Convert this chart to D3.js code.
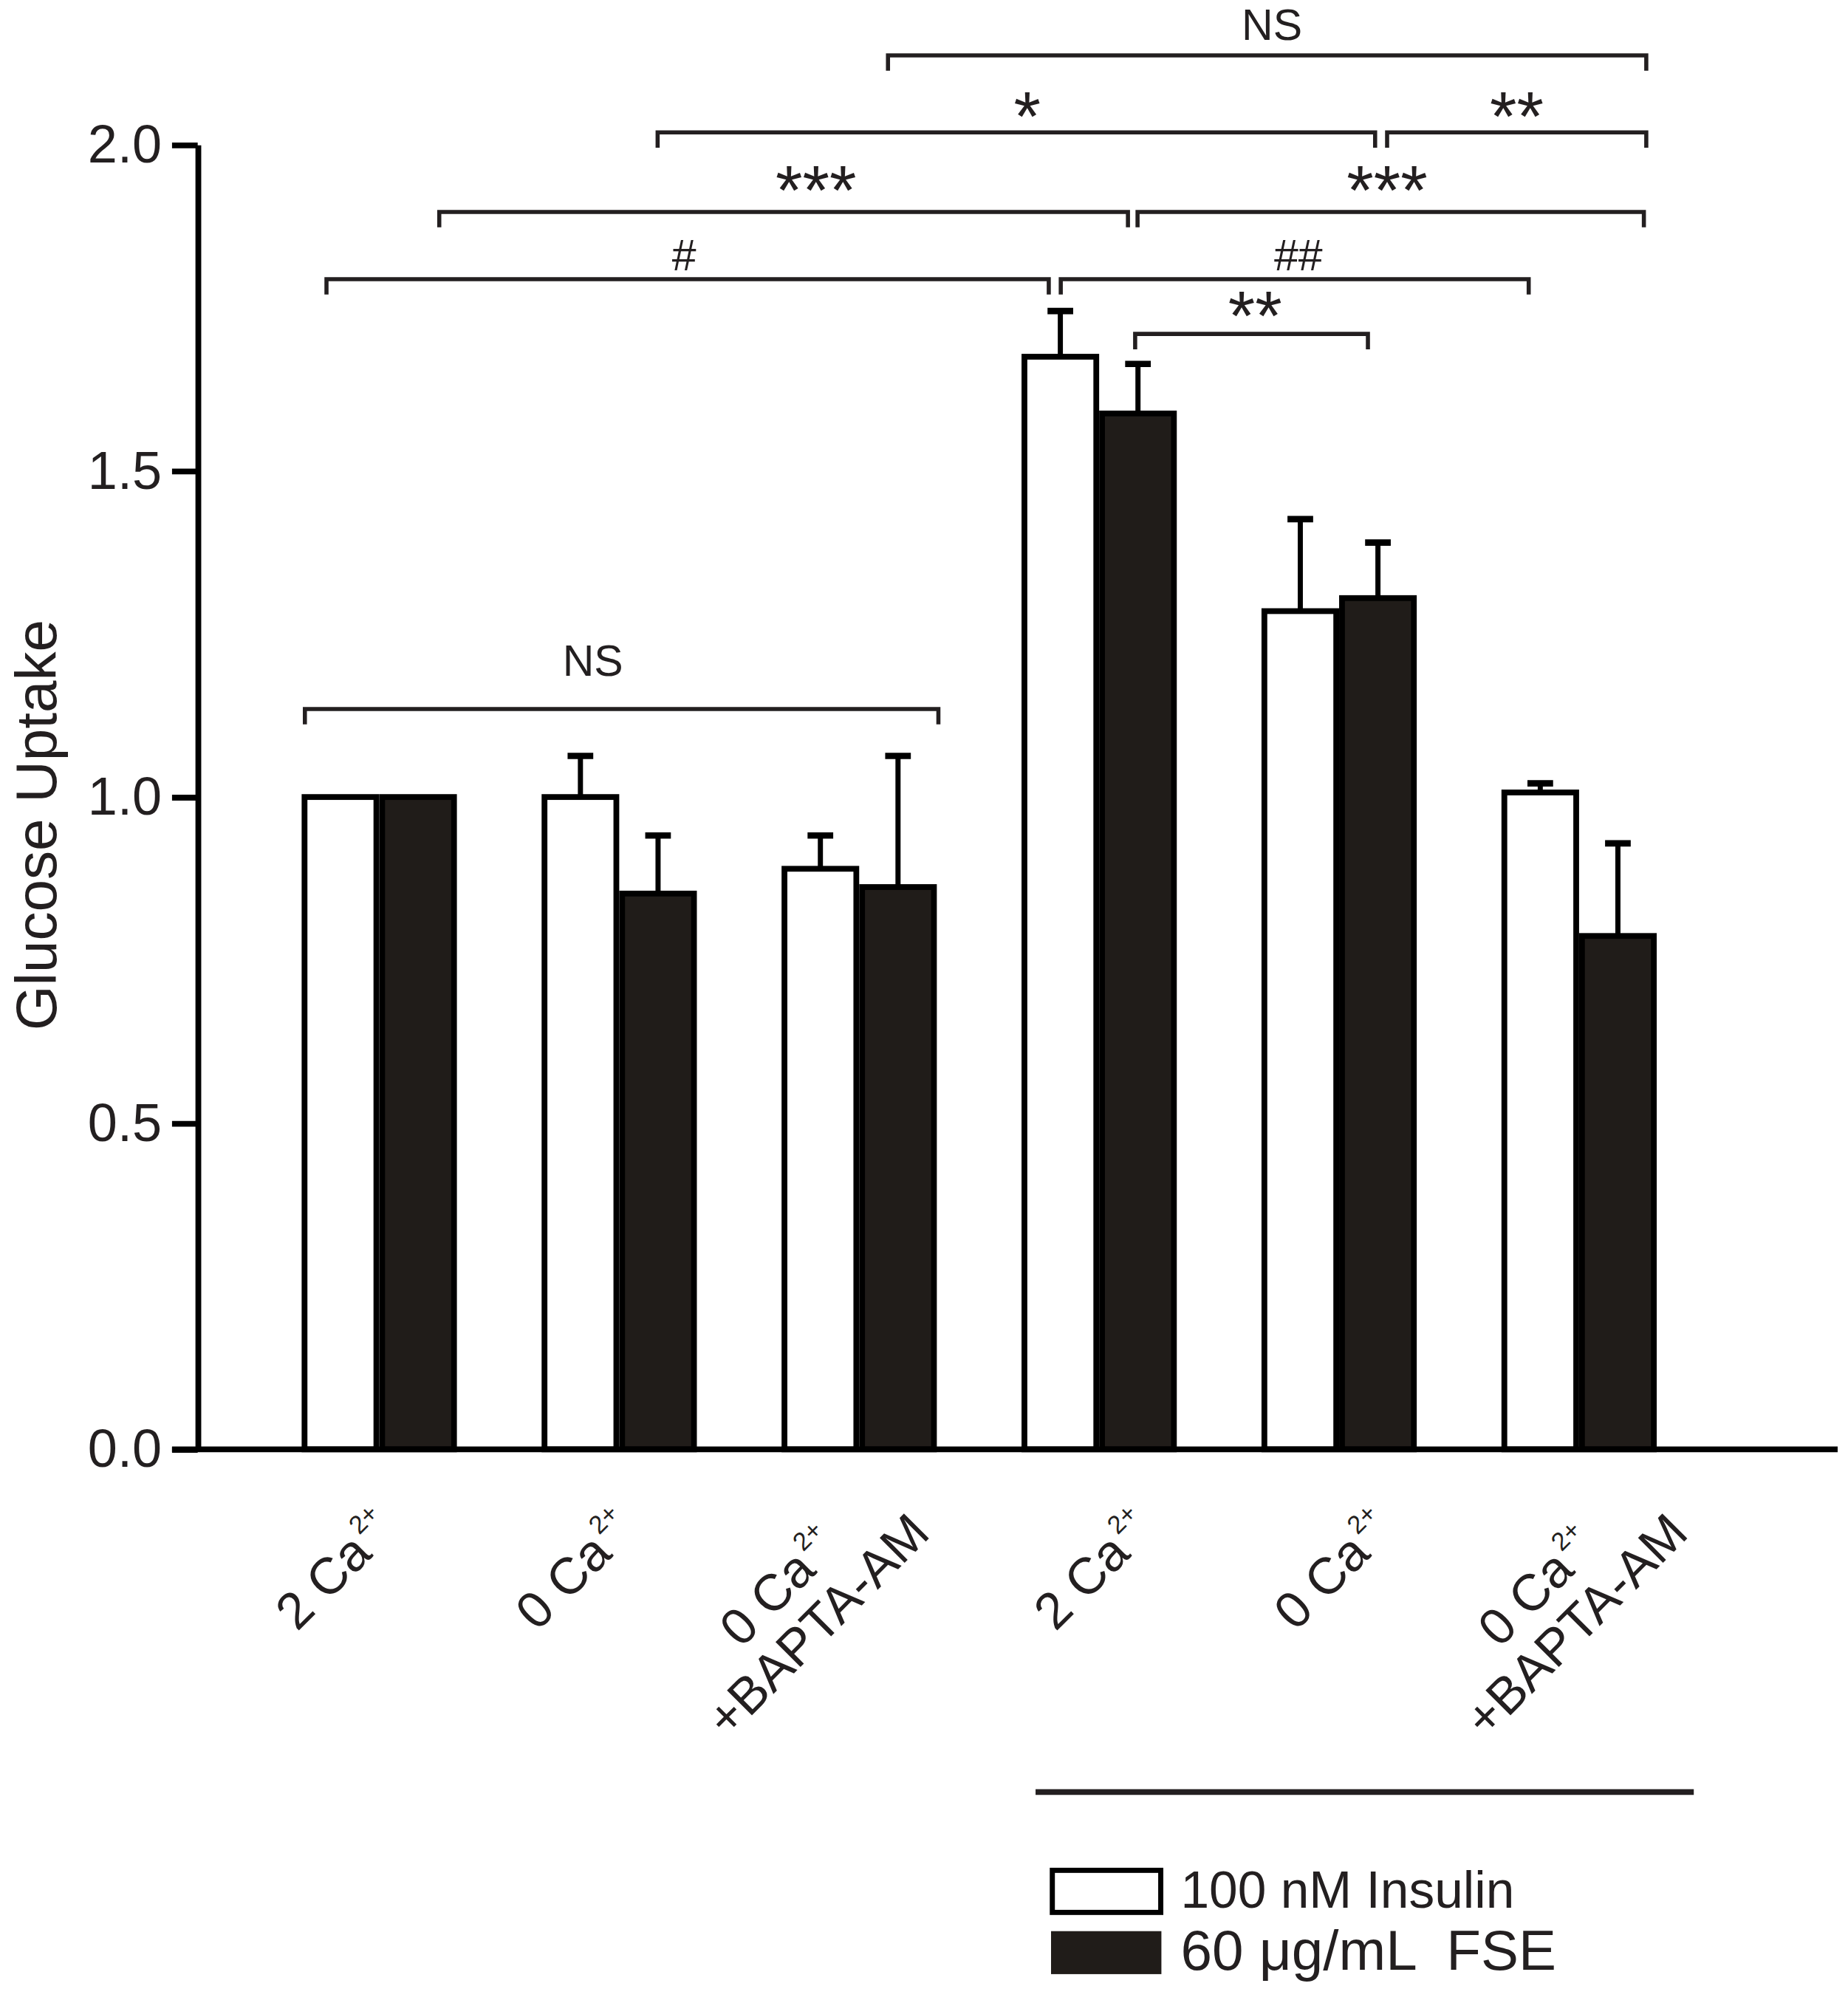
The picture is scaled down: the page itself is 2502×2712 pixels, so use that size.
<!DOCTYPE html>
<html>
<head>
<meta charset="utf-8">
<title>Glucose Uptake</title>
<script src="https://cdn.jsdelivr.net/npm/d3@7"></script>
<style>
  html, body { margin: 0; padding: 0; background: #fff; }
  svg { display: block; font-family: "Liberation Sans", Arial, sans-serif; }
</style>
</head>
<body>
<div id="chart"></div>
<script>
// groups on the x axis: main text, superscript, optional second line
var groups     = ["2 Ca", "0 Ca", "0 Ca", "2 Ca", "0 Ca", "0 Ca"];
var groupSup   = ["2+", "2+", "2+", "2+", "2+", "2+"];
var groupLine2 = ["", "", "+BAPTA-AM", "", "", "+BAPTA-AM"];

var seriesNames = ["100 nM Insulin", "60 μg/mL  FSE"];
var insulinMean = [1.00, 1.00, 0.89, 1.675, 1.285, 1.007];
var insulinSem  = [0, 0.063, 0.051, 0.070, 0.141, 0.014];
var fseMean     = [1.00, 0.852, 0.862, 1.588, 1.305, 0.787];
var fseSem      = [0, 0.089, 0.201, 0.076, 0.085, 0.142];

var yTicks = [0, 0.5, 1.0, 1.5, 2.0];
var yTitle = "Glucose Uptake";

// significance brackets; ends in group units (0 = centre of first group), heights in y units
var bracketFrom      = [2.12, 1.16, 4.20, 0.25, 3.16, -0.22, 2.84, 3.15, -0.31];
var bracketTo        = [5.28, 4.15, 5.28, 3.12, 5.27, 2.79, 4.79, 4.12, 2.33];
var bracketLevel     = [2.137, 2.019, 2.019, 1.897, 1.897, 1.794, 1.794, 1.710, 1.135];
var bracketText      = ["NS", "*", "**", "***", "***", "#", "##", "**", "NS"];
var bracketTextAt    = [3.72, 2.70, 4.74, 1.82, 4.20, 1.27, 3.83, 3.65, 0.89];
var bracketTextLevel = [2.161, 2.007, 2.007, 1.893, 1.893, 1.808, 1.808, 1.701, 1.186];

window.onload = function(){
	var W = 1440, H = 1561;
	var ink = "#231f20";
	var svg = d3.select("#chart").append("svg")
		.attr("width", 2502).attr("height", 2712)
		.attr("viewBox", "0 0 " + W + " " + H);

	var x = d3.scaleBand()
		.domain(d3.range(groups.length))
		.range([202, 1324])
		.paddingInner(0.353)
		.paddingOuter(0.1765);
	var xs = d3.scaleBand().domain([0, 1]).range([0, x.bandwidth()]);
	// continuous position in group units, used for brackets and labels
	var gx = d3.scaleLinear()
		.domain([0, groups.length - 1])
		.range([x(0) + x.bandwidth() / 2, x(groups.length - 1) + x.bandwidth() / 2]);

	var y = d3.scaleLinear().domain([0, 2]).range([1129.5, 112.8]);

	// bars
	var series = [
		{mean: insulinMean, sem: insulinSem, fill: "#ffffff"},
		{mean: fseMean, sem: fseSem, fill: "#201c19"}
	];
	var sw = 4.5;
	series.forEach(function(s, si){
		var g = svg.append("g");
		g.selectAll("rect").data(s.mean).join("rect")
			.attr("x", function(d, i){ return x(i) + xs(si) + sw / 2; })
			.attr("y", function(d){ return y(d); })
			.attr("width", xs.bandwidth() - sw)
			.attr("height", function(d){ return y(0) - y(d); })
			.attr("fill", s.fill)
			.attr("stroke", "#000")
			.attr("stroke-width", sw);

		// error bars (upper only)
		var eb = g.selectAll("g.err").data(d3.range(s.mean.length).filter(function(i){ return s.sem[i] > 0; }))
			.join("g").attr("class", "err");
		eb.append("line")
			.attr("x1", function(i){ return x(i) + xs(si) + xs.bandwidth() / 2; })
			.attr("x2", function(i){ return x(i) + xs(si) + xs.bandwidth() / 2; })
			.attr("y1", function(i){ return y(s.mean[i]); })
			.attr("y2", function(i){ return y(s.mean[i] + s.sem[i]); })
			.attr("stroke", "#000").attr("stroke-width", 4);
		eb.append("line")
			.attr("x1", function(i){ return x(i) + xs(si) + xs.bandwidth() / 2 - 10; })
			.attr("x2", function(i){ return x(i) + xs(si) + xs.bandwidth() / 2 + 10; })
			.attr("y1", function(i){ return y(s.mean[i] + s.sem[i]); })
			.attr("y2", function(i){ return y(s.mean[i] + s.sem[i]); })
			.attr("stroke", "#000").attr("stroke-width", 5);
	});

	// axes
	var yAxis = d3.axisLeft(y)
		.tickValues(yTicks)
		.tickFormat(d3.format(".1f"))
		.tickSize(20)
		.tickSizeOuter(0)
		.tickPadding(8);
	var ya = svg.append("g").attr("transform", "translate(154,0)").call(yAxis);
	ya.select(".domain").attr("stroke", "#000").attr("stroke-width", 4.5);
	ya.selectAll(".tick line").attr("stroke", "#000").attr("stroke-width", 4.5);
	ya.selectAll(".tick text")
		.attr("fill", ink)
		.attr("font-size", 41.5)
		.attr("font-family", "Liberation Sans, Arial, sans-serif");

	svg.append("line")
		.attr("x1", 134).attr("x2", 1432)
		.attr("y1", y(0)).attr("y2", y(0))
		.attr("stroke", "#000").attr("stroke-width", 4.5);

	svg.append("text")
		.attr("transform", "translate(43.6,643) rotate(-90)")
		.attr("text-anchor", "middle")
		.attr("font-size", 45)
		.attr("fill", ink)
		.text(yTitle);

	// rotated group labels
	var lab = svg.append("g").selectAll("g").data(d3.range(groups.length)).join("g")
		.attr("transform", function(i){
			var dx = i < 3 ? -25 : 5;
			return "translate(" + (gx(i) + dx) + ",1233) rotate(-45)";
		});
	lab.each(function(i){
		var g = d3.select(this);
		var two = groupLine2[i] !== "";
		var t = g.append("text")
			.attr("text-anchor", "middle")
			.attr("x", two ? -29 : 0)
			.attr("y", two ? -10.6 : 0)
			.attr("font-size", 40)
			.attr("fill", ink);
		t.append("tspan").text(groups[i]);
		t.append("tspan").attr("font-size", 20).attr("dx", 3).attr("dy", -19).text(groupSup[i]);
		if (two) {
			g.append("text")
				.attr("text-anchor", "middle")
				.attr("x", -29).attr("y", 32)
				.attr("font-size", 40)
				.attr("fill", ink)
				.text(groupLine2[i]);
		}
	});

	// significance brackets
	var tick = 12;
	var br = svg.append("g").selectAll("g").data(d3.range(bracketText.length)).join("g");
	br.append("path")
		.attr("d", function(i){
			var x0 = gx(bracketFrom[i]), x1 = gx(bracketTo[i]), yy = y(bracketLevel[i]);
			return "M" + x0 + "," + (yy + tick) + "V" + yy + "H" + x1 + "V" + (yy + tick);
		})
		.attr("fill", "none")
		.attr("stroke", ink)
		.attr("stroke-width", 3.2);
	br.append("text")
		.attr("x", function(i){ return gx(bracketTextAt[i]); })
		.attr("y", function(i){ return y(bracketTextLevel[i]); })
		.attr("text-anchor", "middle")
		.attr("font-size", function(i){ return bracketText[i].indexOf("*") >= 0 ? 54 : 34; })
		.attr("fill", ink)
		.text(function(i){ return bracketText[i]; });

	// line under the FSE groups
	svg.append("line")
		.attr("x1", gx(2.735)).attr("x2", gx(5.478))
		.attr("y1", 1396.6).attr("y2", 1396.6)
		.attr("stroke", ink).attr("stroke-width", 4.5);

	// legend
	var leg = svg.append("g");
	leg.append("rect")
		.attr("x", 820).attr("y", 1457.6).attr("width", 84.5).attr("height", 32.8)
		.attr("fill", "#fff").attr("stroke", "#000").attr("stroke-width", 4);
	leg.append("rect")
		.attr("x", 819).attr("y", 1505).attr("width", 86).attr("height", 33.5)
		.attr("fill", "#201c19");
	leg.append("text")
		.attr("x", 920).attr("y", 1487)
		.attr("font-size", 40).attr("fill", ink)
		.text(seriesNames[0]);
	leg.append("text")
		.attr("x", 920).attr("y", 1535)
		.attr("font-size", 44).attr("fill", ink)
		.attr("xml:space", "preserve")
		.style("white-space", "pre")
		.text(seriesNames[1]);
};
</script>
</body>
</html>
